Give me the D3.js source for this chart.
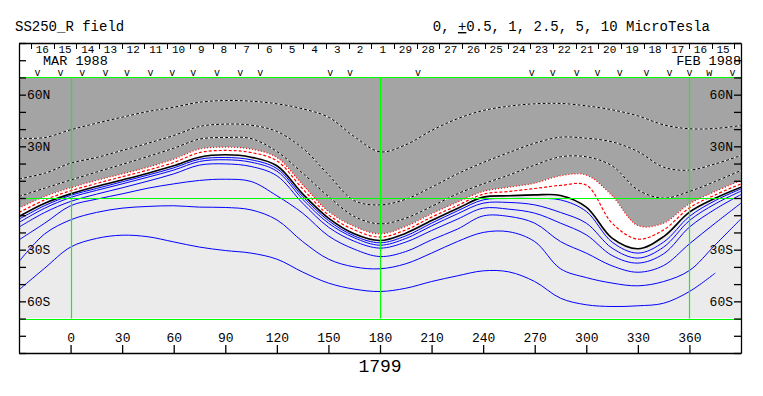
<!DOCTYPE html>
<html>
<head>
<meta charset="utf-8">
<script src="https://cdn.jsdelivr.net/npm/d3@7"></script>
<style>
  body { margin: 0; background: #fff; }
  svg { display: block; }
  text { font-family: 'Liberation Mono', 'DejaVu Sans Mono', monospace; fill: #000; }
</style>
</head>
<body>
<svg width="763" height="396"></svg>
<script>
/*
    Source surface radial field, Carrington rotation 1799,
    contours.
*/

// Longitudes at which every contour was sampled
let lons = [-30, -15, 0, 15, 30, 45, 60, 75, 90, 105, 120, 135, 150, 165, 180,
            195, 210, 225, 240, 255, 270, 285, 300, 315, 330, 345, 360, 375, 390];

// Contour latitudes (deg) at each of the longitudes above
let dotted1  = [34.7, 35.1, 39.6, 43.4, 46.9, 50.2, 52.7, 55.6, 56.6, 56.2, 54.7, 51.8, 46.9, 35.7, 26.8,
                30.9, 39.2, 46.0, 50.8, 53.3, 54.7, 54.9, 53.5, 51.2, 47.7, 42.5, 40.2, 40.4, 42.1];
let dotted2  = [11.1, 14.4, 20.2, 23.5, 27.6, 31.8, 36.3, 41.5, 42.9, 42.3, 38.6, 28.9, 13.5, -1.5, -4.0,
                -0.7, 6.3, 14.0, 20.6, 26.4, 31.8, 35.3, 34.7, 32.6, 27.0, 17.9, 16.2, 19.8, 24.7];
let dotted3  = [0.9, 5.7, 10.4, 15.0, 19.5, 24.1, 28.9, 34.2, 35.1, 34.5, 27.0, 14.4, 0.9, -10.7, -15.0,
                -11.7, -4.9, 2.4, 8.2, 13.3, 19.1, 23.9, 23.9, 18.7, 4.7, -0.1, 3.8, 9.6, 16.0];
let redOuter = [-5.9, 0.9, 5.9, 10.2, 14.0, 17.9, 22.5, 28.4, 29.5, 28.4, 23.5, 7.6, -7.8, -16.5, -20.8,
                -16.5, -9.2, -2.4, 3.8, 6.3, 8.6, 12.9, 13.3, 1.3, -16.0, -14.6, -3.4, 3.8, 10.2];
let redInner = [-8.4, -1.1, 4.2, 8.4, 12.3, 16.2, 20.6, 26.4, 27.6, 26.4, 21.6, 5.3, -9.8, -18.5, -22.7,
                -18.5, -11.1, -4.4, 2.2, 3.8, 5.5, 7.3, 7.5, -14.6, -23.9, -18.5, -5.7, 1.8, 8.2];
let neutral  = [-10.7, -3.0, 2.4, 6.7, 10.5, 14.4, 18.7, 23.7, 25.1, 23.7, 18.7, 2.4, -11.7, -20.8, -24.7,
                -20.4, -13.1, -6.1, 0.5, 1.3, 1.8, 1.5, -5.3, -23.3, -29.5, -22.4, -8.2, -0.1, 6.3];
let blue1    = [-12.3, -4.4, 1.5, 5.5, 9.4, 13.3, 17.5, 22.5, 23.5, 22.2, 17.1, 0.9, -13.1, -22.0, -26.0,
                -22.0, -14.6, -7.5, -1.1, -0.3, -0.3, -1.1, -7.8, -25.6, -32.0, -25.6, -10.7, -1.5, 5.3];
let blue2    = [-14.2, -5.9, 0.3, 4.4, 8.2, 12.1, 16.2, 21.2, 22.2, 20.8, 15.6, -0.7, -14.6, -23.1, -27.4,
                -23.5, -16.2, -9.2, -3.0, -2.6, -4.0, -8.4, -14.6, -29.1, -34.9, -28.5, -13.1, -3.4, 4.0];
let blue3    = [-16.9, -8.4, -2.0, 2.2, 5.9, 9.8, 14.0, 19.1, 19.8, 18.3, 12.9, -3.0, -16.9, -25.1, -29.1,
                -25.6, -18.9, -12.3, -5.9, -6.5, -8.8, -14.6, -21.4, -33.4, -37.8, -32.4, -16.9, -6.5, 2.0];
let blue4    = [-24.3, -14.6, -4.5, -0.7, 2.4, 5.7, 8.2, 10.2, 10.9, 9.6, 1.3, -8.8, -22.0, -29.7, -34.0,
                -31.1, -24.3, -18.1, -10.4, -10.7, -14.6, -25.3, -32.0, -39.4, -43.1, -39.2, -26.6, -14.6, -3.0];
let blue5    = [-36.9, -20.8, -12.7, -8.4, -5.9, -4.9, -4.5, -5.3, -5.5, -6.9, -12.7, -25.3, -35.5, -40.0, -41.1,
                -38.2, -32.0, -25.3, -20.0, -19.6, -25.3, -41.1, -46.2, -49.4, -51.0, -48.5, -42.1, -27.2, -12.1];
let blue6    = [-53.3, -40.7, -28.5, -23.5, -21.6, -22.5, -25.5, -28.5, -30.5, -32.0, -35.5, -43.0, -49.4, -52.9, -54.3,
                -52.4, -48.5, -45.2, -42.3, -42.9, -48.5, -58.2, -62.0, -63.0, -62.6, -61.1, -54.3, -43.6, null];

// Axis ticks and labels
let lonTicks = [0, 30, 60, 90, 120, 150, 180, 210, 240, 270, 300, 330, 360];
let latTicks = [-90, -80, -70, -60, -50, -40, -30, -20, -10, 0, 10, 20, 30, 40, 50, 60, 70, 80, 90];
let latLabelValues = [60, 30, -30, -60];
let latLabelText = ['60N', '30N', '30S', '60S'];
let gridLons = [0, 180, 360];
let gridLats = [70, 0, -70];

// Day numbers along the top (time runs right to left)
let dayLabels = [16, 15, 14, 13, 12, 11, 10, 9, 8, 7, 6, 5, 4, 3, 2, 1,
                 29, 28, 27, 26, 25, 24, 23, 22, 21, 20, 19, 18, 17, 16, 15];
let markerLons = [-19.3, -5.8, 6.8, 20.3, 32.9, 46.5, 59.1, 71.4, 85.2, 98.7, 110.3, 151.0,
                  162.6, 202.1, 268.3, 280.5, 294.4, 306.6, 319.4, 335.0, 348.4, 360.0, 371.6, 385.0];
let markerGlyphs = ['v', 'v', 'v', 'v', 'v', 'v', 'v', 'v', 'v', 'v', 'v', 'v',
                    'v', 'v', 'v', 'v', 'v', 'v', 'v', 'v', 'v', 'v', 'w', 'v'];

// Select svg and set up scales
let svg = d3.select('svg');
let x = d3.scaleLinear().domain([-30, 390]).range([19, 741]);
let y = d3.scaleLinear().domain([-90, 90]).range([353, 43]);
let dayLon = d3.scaleLinear().domain([0, dayLabels.length]).range([-23, -23 + dayLabels.length * 13.2]);

let pts = vals => lons.map((lon, i) => [lon, vals[i]]);
let curve = d3.curveCatmullRom.alpha(0.5);

// Clip region for the map
svg.append('clipPath').attr('id', 'map-clip')
    .append('rect')
    .attr('x', x(-30)).attr('y', y(70))
    .attr('width', x(390) - x(-30)).attr('height', y(-70) - y(70));

let map = svg.append('g').attr('clip-path', 'url(#map-clip)');

// Negative polarity background
map.append('rect')
    .attr('x', x(-30)).attr('y', y(70))
    .attr('width', x(390) - x(-30)).attr('height', y(-70) - y(70))
    .attr('fill', '#ebebeb');

// Positive polarity, shaded above the outer red contour
map.append('path')
    .attr('d', d3.area()
        .x(d => x(d[0])).y0(y(90)).y1(d => y(d[1]))
        .curve(curve)(pts(redOuter)))
    .attr('fill', '#a4a4a4');

// White band between the outer red contour and the neutral line
map.append('path')
    .attr('d', d3.area()
        .x((d, i) => x(lons[i])).y0(d => y(d[0])).y1(d => y(d[1]))
        .curve(curve)(lons.map((lon, i) => [redOuter[i], neutral[i]])))
    .attr('fill', '#ffffff');

// Contour lines
let line = d3.line()
    .defined(d => d[1] != null)
    .x(d => x(d[0])).y(d => y(d[1]))
    .curve(curve);

let contours = [
    {vals: dotted1, under: '#fff', stroke: '#000', dash: '3,2', width: 1},
    {vals: dotted2, under: '#fff', stroke: '#000', dash: '3,2', width: 1},
    {vals: dotted3, under: '#fff', stroke: '#000', dash: '3,2', width: 1},
    {vals: redOuter, stroke: '#ff0000', dash: '1,2', width: 1.2},
    {vals: redInner, stroke: '#ff0000', dash: '3,2', width: 1.2},
    {vals: neutral, stroke: '#000', width: 1.6},
    {vals: blue1, stroke: '#0000ff', width: 1},
    {vals: blue2, stroke: '#0000ff', width: 1},
    {vals: blue3, stroke: '#0000ff', width: 1},
    {vals: blue4, stroke: '#0000ff', width: 1},
    {vals: blue5, stroke: '#0000ff', width: 1},
    {vals: blue6, stroke: '#0000ff', width: 1}
];

contours.forEach(c => {
    if (c.under) {
        map.append('path')
            .attr('d', line(pts(c.vals)))
            .attr('fill', 'none').attr('stroke', c.under).attr('stroke-width', c.width);
    }
    map.append('path')
        .attr('d', line(pts(c.vals)))
        .attr('fill', 'none')
        .attr('stroke', c.stroke)
        .attr('stroke-width', c.width)
        .attr('stroke-dasharray', c.dash || null);
});

// Green grid lines on top
svg.selectAll('.vgrid').data(gridLons).enter().append('line')
    .attr('x1', d => Math.round(x(d)) + 0.5).attr('x2', d => Math.round(x(d)) + 0.5)
    .attr('y1', y(70)).attr('y2', y(-70))
    .attr('stroke', '#00ff00').attr('stroke-width', 1.2);

svg.selectAll('.hgrid').data(gridLats).enter().append('line')
    .attr('x1', x(-30)).attr('x2', x(390))
    .attr('y1', d => Math.round(y(d)) + 0.5).attr('y2', d => Math.round(y(d)) + 0.5)
    .attr('stroke', '#00ff00').attr('stroke-width', 1.2);

// Axes
let latFormat = d => {
    let i = latLabelValues.indexOf(d);
    return i < 0 ? '' : latLabelText[i];
};

let bottomAxis = svg.append('g')
    .attr('transform', 'translate(0,' + y(-90) + ')')
    .call(d3.axisTop(x).tickValues(lonTicks).tickSize(8).tickSizeOuter(0).tickPadding(3));

let leftAxis = svg.append('g')
    .attr('transform', 'translate(' + x(-30) + ',0)')
    .call(d3.axisRight(y).tickValues(latTicks).tickSize(7).tickSizeOuter(0).tickPadding(1).tickFormat(latFormat));

let rightAxis = svg.append('g')
    .attr('transform', 'translate(' + x(390) + ',0)')
    .call(d3.axisLeft(y).tickValues(latTicks).tickSize(7).tickSizeOuter(0).tickPadding(1).tickFormat(latFormat));

[bottomAxis, leftAxis, rightAxis].forEach(g => {
    g.selectAll('path, line').attr('stroke', '#000').attr('stroke-width', 1.3);
    g.selectAll('text')
        .attr('fill', '#000')
        .style('font-family', "'Liberation Mono', monospace")
        .style('font-size', '13px');
});

// Top frame line
svg.append('line')
    .attr('x1', x(-30)).attr('x2', x(390) + 0.5)
    .attr('y1', y(90) + 0.5).attr('y2', y(90) + 0.5)
    .attr('stroke', '#000').attr('stroke-width', 1.3);

// Day boundaries and day numbers
svg.selectAll('.daytick').data(d3.range(dayLabels.length + 1).filter(i => dayLon(i) > -30 && dayLon(i) < 390))
    .enter().append('line')
    .attr('x1', i => Math.round(x(dayLon(i))) + 0.5).attr('x2', i => Math.round(x(dayLon(i))) + 0.5)
    .attr('y1', y(90)).attr('y2', y(90) + 6)
    .attr('stroke', '#000').attr('stroke-width', 1);

svg.selectAll('.daylabel').data(dayLabels).enter().append('text')
    .attr('x', (d, i) => x(dayLon(i + 0.5)))
    .attr('y', 52.5)
    .attr('text-anchor', 'middle')
    .style('font-size', '11px')
    .text(d => d);

svg.append('text').attr('x', 43).attr('y', 64.5).style('font-size', '13.5px').text('MAR 1988');
svg.append('text').attr('x', 741).attr('y', 64.5).attr('text-anchor', 'end').style('font-size', '13.5px').text('FEB 1988');

// Observation markers
svg.selectAll('.marker').data(markerLons).enter().append('text')
    .attr('x', d => x(d))
    .attr('y', 75.5)
    .attr('text-anchor', 'middle')
    .style('font-size', '10px')
    .text((d, i) => markerGlyphs[i]);

// Titles
svg.append('text').attr('x', 15).attr('y', 31).style('font-size', '14px').text('SS250_R field');

let levels = svg.append('text').attr('x', 710).attr('y', 31).attr('text-anchor', 'end').style('font-size', '14px');
levels.append('tspan').text('0, ');
levels.append('tspan').attr('text-decoration', 'underline').text('+');
levels.append('tspan').text('0.5, 1, 2.5, 5, 10 MicroTesla');

svg.append('text')
    .attr('x', x(180)).attr('y', 372)
    .attr('text-anchor', 'middle')
    .style('font-size', '18px')
    .text('1799');
</script>
</body>
</html>
